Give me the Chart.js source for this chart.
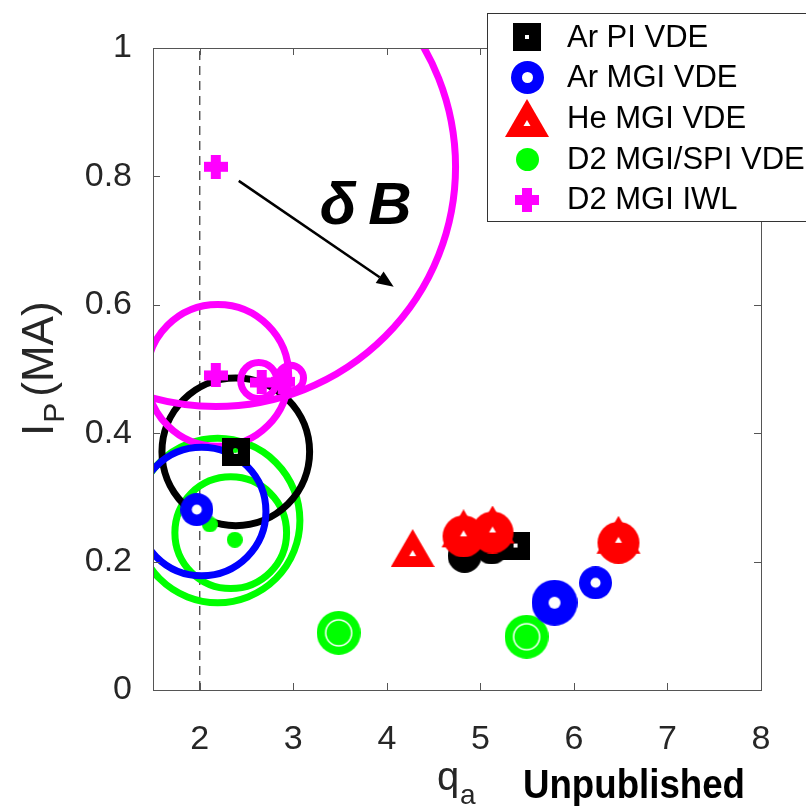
<!DOCTYPE html>
<html>
<head>
<meta charset="utf-8">
<script src="https://cdn.jsdelivr.net/npm/chart.js@4.4.1/dist/chart.umd.min.js"></script>
<style>
  html, body { margin: 0; padding: 0; background: #fff; }
</style>
</head>
<body>
<canvas id="c" width="806" height="809"></canvas>
<script>
// axis ticks
const xTicks = [2, 3, 4, 5, 6, 7, 8];
const yTicks = [0, 0.2, 0.4, 0.6, 0.8, 1];
const yTickLabels = ['0', '0.2', '0.4', '0.6', '0.8', '1'];

const seriesNames = ['Ar PI VDE', 'Ar MGI VDE', 'He MGI VDE', 'D2 MGI/SPI VDE', 'D2 MGI IWL'];

// q_a / Ip values
const arPiX = [2.385, 5.376, 4.831, 5.120];
const arPiY = [0.371, 0.225, 0.209, 0.222];
const arMgiX = [1.968, 5.793, 6.231];
const arMgiY = [0.281, 0.136, 0.167];
const heMgiX = [4.276, 4.820, 5.130, 6.476];
const heMgiY = [0.221, 0.244, 0.250, 0.234];
const d2VdeX = [2.107, 2.374, 3.485, 5.494, 2.379];
const d2VdeY = [0.258, 0.234, 0.089, 0.083, 0.373];
const d2IwlX = [2.171, 2.171, 2.662, 2.887];
const d2IwlY = [0.815, 0.490, 0.479, 0.480];

// big deltaB rings around points (radius in MA)
const blackRingX = [2.385], blackRingY = [0.371], blackRingR = [0.115];
const blueRingX = [2.021], blueRingY = [0.278], blueRingR = [0.100];
const greenRingX = [2.331, 2.192], greenRingY = [0.245, 0.264], greenRingR = [0.087, 0.128];
const magentaRingX = [2.171, 2.192, 2.630, 2.972];
const magentaRingY = [0.815, 0.490, 0.482, 0.486];
const magentaRingR = [0.3735, 0.1105, 0.028, 0.020];

// dashed q=2 line and the deltaB arrow (data units)
const dashX = [2, 2], dashY = [0, 1];
const arrowFrom = [2.417, 0.793], arrowTo = [4.073, 0.628];
const deltaBAt = [3.774, 0.751];

const FONT = "'Liberation Sans', Arial, sans-serif";
const RED = '#ff0000', BLUE = '#0000ff', GREEN = '#00ff00', MAGENTA = '#ff00ff';

const pts = (xs, ys) => xs.map((x, i) => ({ x: x, y: ys[i] }));

// marker pictures
function icon(w, h, draw) {
    const c = document.createElement('canvas');
    c.width = w; c.height = h;
    draw(c.getContext('2d'));
    return c;
}
function disc(g, cx, cy, r) { g.beginPath(); g.arc(cx, cy, r, 0, 2 * Math.PI); g.fill(); }
function tri(g, cx, top, w, h) {
    g.beginPath(); g.moveTo(cx, top); g.lineTo(cx + w / 2, top + h); g.lineTo(cx - w / 2, top + h); g.closePath(); g.fill();
}
const sqIcon = icon(28, 28, g => { g.fillStyle = '#000'; g.fillRect(0, 0, 28, 28); g.fillStyle = '#fff'; g.fillRect(12, 12, 4, 4); });
const blackDot = icon(34, 34, g => { g.fillStyle = '#000'; disc(g, 17, 17, 17); });
function ringIcon(d, hole) {
    return icon(d, d, g => { g.fillStyle = BLUE; disc(g, d / 2, d / 2, d / 2); g.fillStyle = '#fff'; disc(g, d / 2, d / 2, hole / 2); });
}
const ringSmall = ringIcon(33, 10), ringBig = ringIcon(46, 12), ringLegend = ringIcon(33, 11);
const triIcon = icon(44, 38, g => { g.fillStyle = RED; tri(g, 22, 0, 44, 38); g.fillStyle = '#fff'; tri(g, 22, 21, 7, 6); });
const circTriIcon = icon(46, 48, g => { g.fillStyle = RED; tri(g, 23, 0, 44, 38); disc(g, 23, 27, 21); g.fillStyle = '#fff'; tri(g, 23, 21, 7, 6); });
function greenDot(d) { return icon(d, d, g => { g.fillStyle = GREEN; disc(g, d / 2, d / 2, d / 2); }); }
const greenSmall = greenDot(16), greenTiny = greenDot(5), greenLegend = greenDot(23);
const greenBig = icon(44, 44, g => {
    g.fillStyle = GREEN; disc(g, 22, 22, 22);
    g.strokeStyle = '#fff'; g.lineWidth = 1.5; g.beginPath(); g.arc(22, 22, 13, 0, 2 * Math.PI); g.stroke();
});
const crossIcon = icon(24, 24, g => { g.fillStyle = MAGENTA; g.fillRect(0, 7, 24, 10); g.fillRect(7, 0, 10, 24); });

function markerSet(xs, ys, styles, order) {
    return { data: pts(xs, ys), order: order, pointStyle: styles, pointRadius: 10 };
}
const ringPx = (c, r) => { const s = c.chart.scales.y; return s.getPixelForValue(0) - s.getPixelForValue(r); };
function ringSet(xs, ys, rs, color, order) {
    return {
        data: pts(xs, ys), order: order, clip: 0,
        pointStyle: 'circle',
        pointBackgroundColor: 'rgba(0,0,0,0)',
        pointBorderColor: color,
        pointBorderWidth: 7,
        pointRadius: c => ringPx(c, rs[c.dataIndex])
    };
}

const legendIcons = [sqIcon, ringLegend, triIcon, greenLegend, crossIcon];

const decor = {
    id: 'decor',
    afterDatasetsDraw(chart) {
        const { ctx, chartArea: a, scales: { x, y } } = chart;
        ctx.save();
        // box and inward ticks
        ctx.strokeStyle = '#555';
        ctx.lineWidth = 1;
        ctx.strokeRect(Math.round(a.left) + 0.5, Math.round(a.top) + 0.5, Math.round(a.right - a.left), Math.round(a.bottom - a.top));
        ctx.beginPath();
        xTicks.forEach(v => {
            const p = Math.round(x.getPixelForValue(v)) + 0.5;
            ctx.moveTo(p, a.bottom); ctx.lineTo(p, a.bottom - 7);
            ctx.moveTo(p, a.top); ctx.lineTo(p, a.top + 7);
        });
        yTicks.forEach(v => {
            const p = Math.round(y.getPixelForValue(v)) + 0.5;
            ctx.moveTo(a.left, p); ctx.lineTo(a.left + 7, p);
            ctx.moveTo(a.right, p); ctx.lineTo(a.right - 7, p);
        });
        ctx.stroke();

        // arrow
        const x0 = x.getPixelForValue(arrowFrom[0]), y0 = y.getPixelForValue(arrowFrom[1]);
        const x1 = x.getPixelForValue(arrowTo[0]), y1 = y.getPixelForValue(arrowTo[1]);
        const ang = Math.atan2(y1 - y0, x1 - x0);
        const hl = 17, hw = 7;
        const bx = x1 - hl * Math.cos(ang), by = y1 - hl * Math.sin(ang);
        ctx.strokeStyle = '#000';
        ctx.lineWidth = 2.5;
        ctx.beginPath(); ctx.moveTo(x0, y0); ctx.lineTo(bx, by); ctx.stroke();
        ctx.fillStyle = '#000';
        ctx.beginPath();
        ctx.moveTo(x1, y1);
        ctx.lineTo(bx + hw * Math.sin(ang), by - hw * Math.cos(ang));
        ctx.lineTo(bx - hw * Math.sin(ang), by + hw * Math.cos(ang));
        ctx.closePath(); ctx.fill();

        // delta B label
        ctx.font = 'italic bold 60px ' + FONT;
        ctx.textAlign = 'center';
        ctx.textBaseline = 'middle';
        ctx.fillText('\u03B4\u2009B', x.getPixelForValue(deltaBAt[0]), y.getPixelForValue(deltaBAt[1]));
        ctx.restore();
    },
    afterDraw(chart) {
        const ctx = chart.ctx;
        ctx.save();
        ctx.fillStyle = '#262626';
        ctx.textAlign = 'left';
        ctx.textBaseline = 'alphabetic';

        // y title: I_P (MA)
        ctx.save();
        ctx.translate(53, 436);
        ctx.rotate(-Math.PI / 2);
        ctx.font = '44px ' + FONT;
        ctx.fillText('I', 0, 0);
        let w = ctx.measureText('I').width;
        ctx.font = '30px ' + FONT;
        ctx.fillText('P', w + 1, 11);
        w += 1 + ctx.measureText('P').width + 6;
        ctx.font = '44px ' + FONT;
        ctx.fillText('(MA)', w, 0);
        ctx.restore();

        // x title: q_a
        ctx.font = '40px ' + FONT;
        ctx.fillText('q', 437, 790);
        ctx.font = '28px ' + FONT;
        ctx.fillText('a', 460, 804);

        // Unpublished (condensed bold)
        ctx.save();
        ctx.font = 'bold 40px ' + FONT;
        const uw = ctx.measureText('Unpublished').width;
        ctx.translate(523, 798);
        ctx.scale(222 / uw, 1);
        ctx.fillStyle = '#000';
        ctx.fillText('Unpublished', 0, 0);
        ctx.restore();

        // legend
        ctx.fillStyle = '#fff';
        ctx.fillRect(487, 13, 330, 209);
        ctx.strokeStyle = '#333';
        ctx.lineWidth = 1;
        ctx.strokeRect(487.5, 13.5, 330, 208);
        ctx.font = '31px ' + FONT;
        ctx.textBaseline = 'middle';
        ctx.fillStyle = '#000';
        seriesNames.forEach((name, i) => {
            const cy = 37 + i * 40.7;
            const im = legendIcons[i];
            ctx.drawImage(im, Math.round(527 - im.width / 2), Math.round(cy - im.height / 2));
            ctx.fillText(name, 567, cy + 1);
        });
        ctx.restore();
    }
};

new Chart(document.getElementById('c'), {
    type: 'scatter',
    data: {
        datasets: [
            Object.assign(markerSet(heMgiX, heMgiY, [triIcon, circTriIcon, circTriIcon, circTriIcon], 0), { label: seriesNames[2] }),
            Object.assign(markerSet(arMgiX, arMgiY, [ringSmall, ringBig, ringSmall], 1), { label: seriesNames[1] }),
            Object.assign(markerSet(d2IwlX, d2IwlY, crossIcon, 2), { label: seriesNames[4] }),
            Object.assign(markerSet(d2VdeX, d2VdeY, [greenSmall, greenSmall, greenBig, greenBig, greenTiny], 3), { label: seriesNames[3] }),
            Object.assign(markerSet(arPiX, arPiY, [sqIcon, sqIcon, blackDot, blackDot], 4), { label: seriesNames[0] }),
            ringSet(blueRingX, blueRingY, blueRingR, BLUE, 5),
            ringSet(magentaRingX, magentaRingY, magentaRingR, MAGENTA, 6),
            ringSet(blackRingX, blackRingY, blackRingR, '#000', 7),
            ringSet(greenRingX, greenRingY, greenRingR, GREEN, 8),
            {
                type: 'line', data: pts(dashX, dashY), order: 20,
                borderColor: '#333', borderWidth: 1.2, borderDash: [9, 6], pointRadius: 0
            }
        ]
    },
    options: {
        responsive: false,
        animation: false,
        events: [],
        layout: { padding: { top: 48, right: 45, left: 0, bottom: 0 } },
        plugins: { legend: { display: false }, tooltip: { enabled: false } },
        scales: {
            x: {
                type: 'linear', min: 1.5, max: 8,
                afterBuildTicks: s => { s.ticks = xTicks.map(v => ({ value: v })); },
                afterFit: s => { s.height = 119; },
                grid: { display: false, drawTicks: false },
                border: { display: false },
                ticks: { font: { family: FONT, size: 34 }, color: '#262626', padding: 29, maxRotation: 0, autoSkip: false }
            },
            y: {
                type: 'linear', min: 0, max: 1,
                afterBuildTicks: s => { s.ticks = yTicks.map(v => ({ value: v })); },
                afterFit: s => { s.width = 153; },
                grid: { display: false, drawTicks: false },
                border: { display: false },
                ticks: {
                    font: { family: FONT, size: 34 }, color: '#262626', padding: 21, autoSkip: false,
                    callback: (v, i) => yTickLabels[i]
                }
            }
        }
    },
    plugins: [decor]
});
</script>
</body>
</html>
